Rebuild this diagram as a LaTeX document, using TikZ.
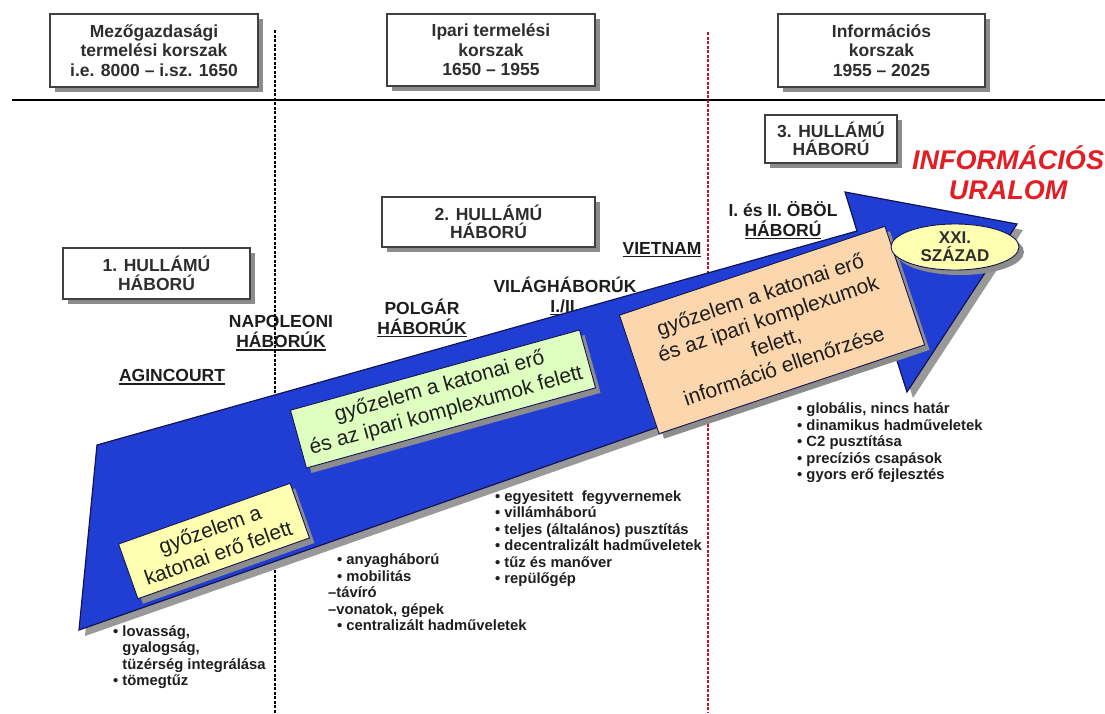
\documentclass[tikz,border=0pt]{standalone}
\usepackage{fontspec}
\setmainfont{Liberation Sans}
\usetikzlibrary{shapes.geometric,shadows}
\definecolor{arrowblue}{RGB}{32,62,212}
\definecolor{arrowedge}{RGB}{20,20,80}
\definecolor{boxyellow}{RGB}{255,255,178}
\definecolor{boxgreen}{RGB}{222,255,192}
\definecolor{boxpeach}{RGB}{252,214,172}
\definecolor{titlered}{RGB}{226,30,36}
\definecolor{dashred}{RGB}{200,20,30}
\definecolor{txt}{RGB}{30,30,30}
\newcommand{\ulbar}[1]{\setbox0\hbox{#1}\leavevmode\rlap{\rule[-2.8pt]{\wd0}{1.2pt}}\box0}
\tikzset{
  shd/.style={drop shadow={shadow xshift=5pt,shadow yshift=-5pt,fill=black!45,opacity=1}},
  hbox/.style={draw=black!75, line width=1.1pt, fill=white, shd, align=center, inner sep=2pt,
    text=black!82, font=\fontsize{17.5}{19.5}\selectfont\bfseries},
  wbox/.style={draw=black!75, line width=1.1pt, fill=white, shd, align=center, inner sep=2pt,
    text=black!82, font=\fontsize{17.5}{18.5}\selectfont\bfseries},
  lbl/.style={align=center, inner sep=0pt, text=txt, font=\fontsize{17.5}{20}\selectfont\bfseries},
  lst/.style={align=left, inner sep=0pt, anchor=west, text=txt, font=\fontsize{14.8}{16.5}\selectfont\bfseries},
  vbox/.style={draw=arrowedge, line width=0.9pt, shd, align=center, inner sep=2pt, text=txt,
    font=\fontsize{21}{25}\selectfont},
  vdash/.style={line width=2pt, dash pattern=on 3pt off 1.5pt}
}
\begin{document}
\begin{tikzpicture}[x=1pt,y=-1pt]
\useasboundingbox (0,0) rectangle (1105,713);
\fill[white] (0,0) rectangle (1105,713);

% header line
\coordinate (hl) at (12,100);
\coordinate (hr) at (1105,100);
\draw[line width=1.3pt] (hl) -- (hr);

% header boxes
\node[hbox, minimum width=208, minimum height=73] (h1) at (154,50.5) {Mezőgazdasági\\termelési korszak\\i.e. 8000 – i.sz. 1650};
\node[hbox, minimum width=208, minimum height=72] (h2) at (491,50) {Ipari termelési\\korszak\\1650 – 1955};
\node[hbox, minimum width=207, minimum height=73] (h3) at (881.5,50.5) {Információs\\korszak\\1955 – 2025};

% wave boxes
\node[wbox, minimum width=187, minimum height=51] (w1) at (156.5,273.5) {1. HULLÁMÚ\\HÁBORÚ};
\node[wbox, minimum width=213, minimum height=50] (w2) at (488.5,222) {2. HULLÁMÚ\\HÁBORÚ};
\node[wbox, minimum width=132, minimum height=48] (w3) at (831,139) {3. HULLÁMÚ\\HÁBORÚ};

\node[align=center, inner sep=0pt, text=titlered, font=\fontsize{27}{30}\selectfont\bfseries\itshape] (dom) at (1008,173) {INFORMÁCIÓS\\URALOM};

% labels
\node[lbl] (agin) at (172,377) {\ulbar{AGINCOURT}};
\node[lbl] (napo) at (281,333) {NAPOLEONI\\\ulbar{HÁBORÚK}};
\node[lbl] (polg) at (422,318) {POLGÁR\\\ulbar{HÁBORÚK}};
\node[lbl] (vilag) at (565,296) {VILÁGHÁBORÚK\\\ulbar{I./II.}};
\node[lbl] (viet) at (662,250) {\ulbar{VIETNAM}};
\node[lbl] (obol) at (783,220) {I. és II. ÖBÖL\\\ulbar{HÁBORÚ}};

% era separators
\coordinate (s1t) at (275,30);
\coordinate (s1b) at (275,713);
\coordinate (s2t) at (708,32);
\coordinate (s2b) at (708,713);
\draw[vdash, black] (s1t) -- (s1b);
\draw[vdash, dashred] (s2t) -- (s2b);

% big arrow
\coordinate (a1) at (97,445);
\coordinate (a2) at (857,231);
\coordinate (a3) at (845,192);
\coordinate (a4) at (1017,224);
\coordinate (a5) at (907,392);
\coordinate (a6) at (892,345);
\coordinate (a7) at (79,630);
\fill[black!40, transform canvas={xshift=6pt,yshift=-6pt}] (a1) -- (a2) -- (a3) -- (a4) -- (a5) -- (a6) -- (a7) -- cycle;
\filldraw[fill=arrowblue, draw=arrowedge, line width=1.2pt, line join=miter] (a1) -- (a2) -- (a3) -- (a4) -- (a5) -- (a6) -- (a7) -- cycle;

% victory boxes
\node[vbox, fill=boxyellow, rotate=19.5, minimum width=182, minimum height=58] (v1) at (214,541) {győzelem a\\katonai erő felett};
\node[vbox, fill=boxgreen, rotate=15.5, minimum width=300, minimum height=60] (v2) at (443,399) {győzelem a katonai erő\\és az ipari komplexumok felett};
\node[vbox, fill=boxpeach, rotate=18.5, minimum width=280, minimum height=125] (v3) at (772,330) {győzelem a katonai erő\\és az ipari komplexumok\\felett,\\információ ellenőrzése};

\node[ellipse, draw=arrowedge, line width=0.9pt, fill=boxyellow, shd, minimum width=128, minimum height=46, inner sep=0pt,
  align=center, text=black!82, font=\fontsize{17}{18}\selectfont\bfseries] (xxi) at (955,247) {XXI.\\SZÁZAD};

% lists
\node[lst] (l1) at (113,657) {• lovasság,\\\hphantom{•\ }gyalogság,\\\hphantom{•\ }tüzérség integrálása\\• tömegtűz};
\node[lst] (l2) at (328,592.5) {\hspace*{9pt}• anyagháború\\\hspace*{9pt}• mobilitás\\–távíró\\–vonatok, gépek\\\hspace*{9pt}• centralizált hadműveletek};
\node[lst] (l3) at (495,538.5) {• egyesitett\ \ fegyvernemek\\• villámháború\\• teljes (általános) pusztítás\\• decentralizált hadműveletek\\• tűz és manőver\\• repülőgép};
\node[lst] (l4) at (797,443) {• globális, nincs határ\\• dinamikus hadműveletek\\• C2 pusztítása\\• precíziós csapások\\• gyors erő fejlesztés};
\end{tikzpicture}
\end{document}
